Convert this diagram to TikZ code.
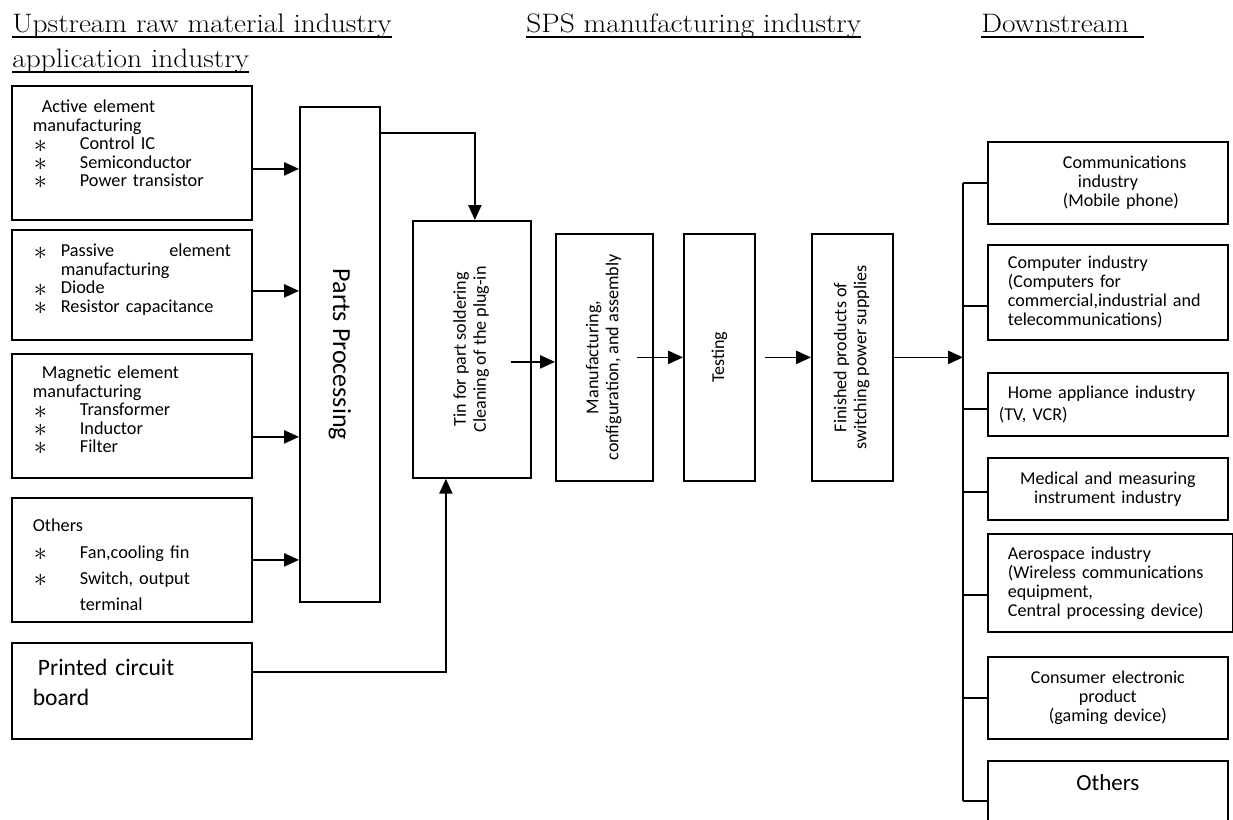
\documentclass[tikz,border=0pt]{standalone}
\usepackage{fontspec}
\usepackage{graphicx}
\setsansfont{Carlito}
\usetikzlibrary{arrows.meta}
\newlength{\unitpx}
\setlength{\unitpx}{0.02cm}
\newcommand{\itm}[1][47]{\makebox[#1\unitpx][l]{\hspace*{1\unitpx}\raisebox{-1.3pt}{\scalebox{1.5}{$\ast$}}}}
\newcommand{\ind}[1]{\hspace*{#1\unitpx}}
\newcommand{\hd}[1]{\scalebox{1.1}[1]{#1}}
\tikzstyle{box} = [rectangle, draw, line width=1pt, anchor=north west, inner ysep=0pt]
\tikzstyle{upbox} = [box, text width=198\unitpx, inner xsep=21\unitpx, align=left,
    font=\sffamily\fontsize{10.4}{10.5}\selectfont]
\tikzstyle{midbox} = [box, inner sep=0pt, align=center,
    font=\sffamily\fontsize{10.3}{11.3}\selectfont]
\tikzstyle{downbox} = [box, text width=228\unitpx, inner xsep=6\unitpx, align=left,
    font=\sffamily\fontsize{10.3}{10.8}\selectfont]
\tikzstyle{line} = [draw, line width=1pt, -{Triangle[length=8.5pt,width=7.5pt]}]
\tikzstyle{branch} = [draw, line width=1pt]
\tikzstyle{header} = [anchor=base west, inner sep=0pt, font=\fontsize{15.2}{18}\selectfont]
\tikzstyle{uline} = [draw, line width=1.1pt]

\begin{document}
\begin{tikzpicture}[x=0.02cm, y=-0.02cm]
    \useasboundingbox (0,0) rectangle (1233,819);
    \clip (0,0) rectangle (1233,819);
    % Headers
    \node [header] (up) at (12,32) {\hd{Upstream raw material industry}};
    \node [header] (app) at (12,67) {\hd{application industry}};
    \node [header] (sps) at (526,32) {\hd{SPS manufacturing industry}};
    \node [header] (down) at (981,32) {\hd{Downstream}};
    \foreach \h in {up, app, sps}
        \path [uline] ([yshift=-5\unitpx]\h.base west) -- ([yshift=-5\unitpx]\h.base east);
    \path [uline] ([yshift=-5\unitpx]down.base west) -- ([xshift=15\unitpx, yshift=-5\unitpx]down.base east);
    % Upstream boxes
    \node [upbox, text height=27\unitpx, text depth=107\unitpx] (active) at (11,85)
        {\ind{9}Active element\\manufacturing\\\itm Control IC\\\itm Semiconductor\\\itm Power transistor};
    \node [upbox, text height=27\unitpx, text depth=83\unitpx] (passive) at (11,229)
        {\itm[28]\makebox[170\unitpx][s]{Passive\hfill element}\\\ind{28}manufacturing\\\itm[28]Diode\\\itm[28]Resistor capacitance};
    \node [upbox, text height=25\unitpx, text depth=99\unitpx] (magnetic) at (11,353)
        {\ind{9}Magnetic element\\manufacturing\\\itm Transformer\\\itm Inductor\\\itm Filter};
    \node [upbox, text height=34\unitpx, text depth=90\unitpx,
        font=\sffamily\fontsize{10.4}{14.9}\selectfont] (others) at (11,497)
        {Others\\\itm Fan,cooling fin\\\itm Switch, output\\\ind{47}terminal};
    \node [upbox, text height=33\unitpx, text depth=63\unitpx,
        font=\sffamily\fontsize{13.4}{17}\selectfont] (pcb) at (11,642)
        {\ind{5}Printed circuit\\board};
    % Manufacturing chain
    \node [midbox, minimum width=80\unitpx, minimum height=495\unitpx,
        font=\sffamily\fontsize{14.8}{16}\selectfont] (parts) at (299,106)
        {\rotatebox{-90}{Parts Processing}};
    \node [midbox, minimum width=118\unitpx, minimum height=257\unitpx] (tin) at (412,220)
        {\rotatebox{90}{\begin{tabular}{@{}c@{}}Tin for part soldering\\Cleaning of the plug-in\end{tabular}}};
    \node [midbox, minimum width=97\unitpx, minimum height=247\unitpx] (manuf) at (555,233)
        {\rotatebox{90}{\begin{tabular}{@{}c@{}}Manufacturing,\\configuration, and assembly\end{tabular}}};
    \node [midbox, minimum width=71\unitpx, minimum height=247\unitpx] (test) at (683,233)
        {\rotatebox{90}{Testing}};
    \node [midbox, minimum width=81\unitpx, minimum height=247\unitpx] (fin) at (811,233)
        {\rotatebox{90}{\begin{tabular}{@{}c@{}}Finished products of\\switching power supplies\end{tabular}}};
    % Downstream boxes
    \node [downbox, minimum height=82\unitpx] (comm) at (987,141)
        {\ind{69}Communications\\\ind{84}industry\\\ind{69}(Mobile phone)};
    \node [downbox, minimum height=95\unitpx] (comp) at (987,244)
        {\ind{14}Computer industry\\\ind{14}(Computers for\\\ind{14}commercial,industrial and\\\ind{14}telecommunications)};
    \node [downbox, minimum height=63\unitpx,
        font=\sffamily\fontsize{10.3}{12.5}\selectfont] (home) at (987,372)
        {\ind{14}Home appliance industry\\\ind{5}(TV, VCR)};
    \node [downbox, minimum height=62\unitpx, align=center] (med) at (987,457)
        {Medical and measuring\\instrument industry};
    \node [downbox, minimum height=98\unitpx, text width=233\unitpx] (aero) at (987,533)
        {\ind{14}Aerospace industry\\\ind{14}(Wireless communications\\\ind{14}equipment,\\\ind{14}Central processing device)};
    \node [downbox, minimum height=82\unitpx, align=center] (cons) at (987,656)
        {Consumer electronic\\product\\(gaming device)};
    \node [downbox, align=center, text height=30\unitpx, text depth=50\unitpx,
        font=\sffamily\fontsize{13.1}{15}\selectfont] (other) at (987,760) {Others};
    % Draw edges
    \foreach \src/\dy in {active/16, passive/6, magnetic/21, others/0}
        \path [line] ([yshift=-\dy\unitpx]\src.east) coordinate (\src-out) -- (\src-out -| parts.west);
    \path [line] ([yshift=-27\unitpx]parts.north east) -| ([xshift=3\unitpx]tin.north);
    \path [line] ([yshift=19\unitpx]pcb.east) -| ([xshift=-26\unitpx]tin.south);
    \path [line] ([xshift=-44\unitpx, yshift=-4.5\unitpx]manuf.west) -- ([yshift=-4.5\unitpx]manuf.west);
    \path [line] ([xshift=-17\unitpx]manuf.east) -- (test.west);
    \path [line] ([xshift=9\unitpx]test.east) -- (fin.west);
    \foreach \dst/\dy in {comm/0, comp/13.5, home/4.5, med/3, aero/12, cons/0, other/0}
        \path [branch] ([yshift=-\dy\unitpx]\dst.west) -- ++(-24,0) coordinate (\dst-bus);
    \path [branch] (comm-bus) -- (other-bus);
    \path [line] (fin.east) -- (fin.east -| comm-bus);
\end{tikzpicture}
\end{document}
